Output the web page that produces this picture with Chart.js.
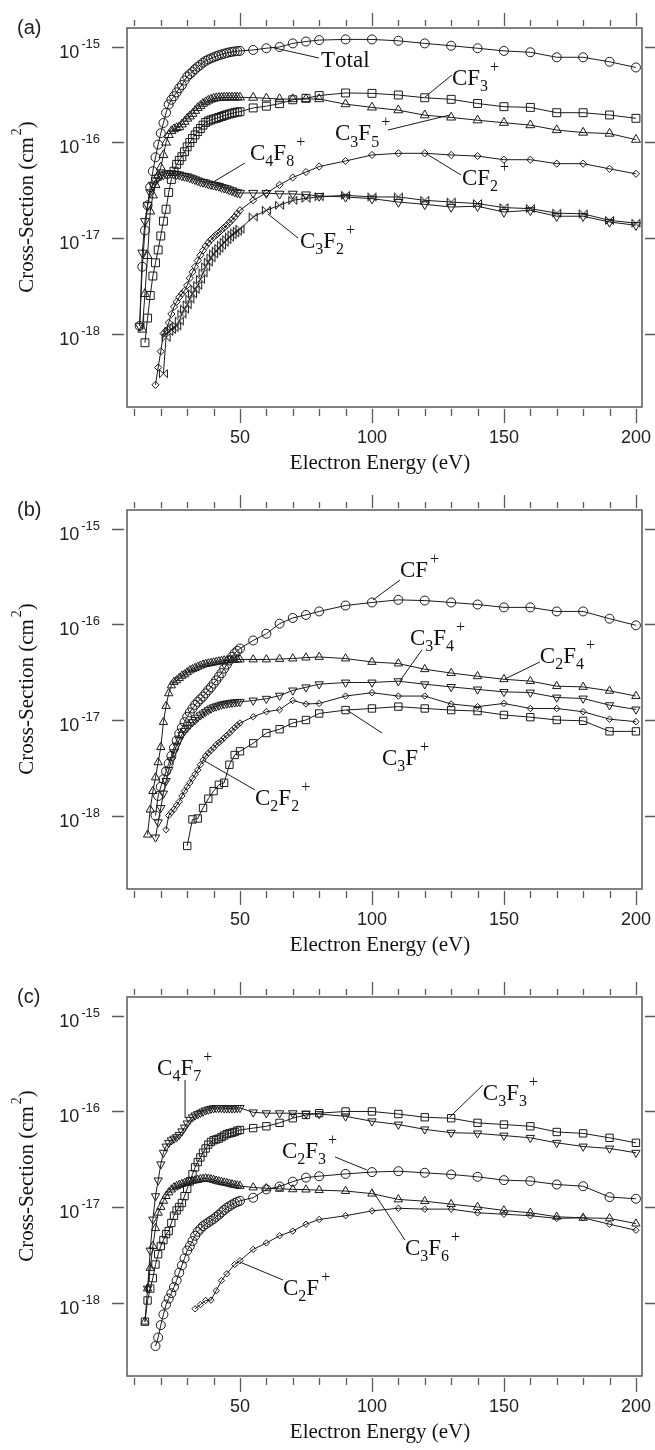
<!DOCTYPE html>
<html lang="en">
<head>
<meta charset="UTF-8">
<title>Partial ionization cross-sections</title>
<script src="https://cdn.jsdelivr.net/npm/chart.js"></script>
<style>
  body { margin: 0; background: #fff; width: 655px; height: 1450px; overflow: hidden; position: relative; }
  canvas { position: absolute; left: 0; }
  #chartA { top: 0; }
  #chartB { top: 482px; }
  #chartC { top: 969px; }
</style>
</head>
<body>
<canvas id="chartA" width="655" height="483"></canvas>
<canvas id="chartB" width="655" height="483"></canvas>
<canvas id="chartC" width="655" height="483"></canvas>
<script>
// axes
const xTicks = [10, 20, 30, 40, 50, 60, 70, 80, 90, 100, 110, 120, 130, 140, 150, 160, 170, 180, 190, 200];
const xTickLabels = [50, 100, 150, 200];
const yTicks = [1e-15, 1e-16, 1e-17, 1e-18];
const yTickExp = ['-15', '-16', '-17', '-18'];

// energies above 50 eV are shared by every series
const tailE = [55, 60, 65, 70, 75, 80, 90, 100, 110, 120, 130, 140, 150, 160, 170, 180, 190, 200];

// ---- panel (a)
const aTotalE = [12, 13, 14, 15, 16, 17, 18, 19, 20, 21, 22, 23, 24, 25, 26, 27, 28, 29, 30, 31, 32, 33, 34, 35, 36, 37, 38, 39, 40, 41, 42, 43, 44, 45, 46, 47, 48, 49, 50];
const aTotal = [1.2e-18, 5.0e-18, 1.2e-17, 2.2e-17, 3.4e-17, 5.0e-17, 7.0e-17, 9.5e-17, 1.25e-16,
  1.6e-16, 2.05e-16, 2.5e-16, 2.8e-16, 3.05e-16, 3.35e-16, 3.7e-16, 4.0e-16, 4.45e-16, 4.9e-16,
  5.2e-16, 5.5e-16, 5.85e-16, 6.2e-16, 6.5e-16, 6.85e-16, 7.15e-16, 7.4e-16, 7.6e-16, 7.8e-16,
  8.0e-16, 8.2e-16, 8.35e-16, 8.5e-16, 8.65e-16, 8.8e-16, 8.9e-16, 9.0e-16, 9.05e-16, 9.1e-16,
  9.3e-16, 9.7e-16, 1.0e-15, 1.09e-15, 1.14e-15, 1.18e-15, 1.2e-15, 1.2e-15, 1.16e-15, 1.09e-15, 1.03e-15, 9.7e-16, 9.1e-16, 8.8e-16, 7.8e-16, 7.8e-16, 7.0e-16, 6.1e-16];

const aCF3E = [14, 15, 16, 17, 18, 19, 20, 21, 22, 23, 24, 25, 26, 27, 28, 29, 30, 31, 32, 33, 34, 35, 36, 37, 38, 39, 40, 41, 42, 43, 44, 45, 46, 47, 48, 49, 50];
const aCF3 = [8e-19, 1.45e-18, 2.5e-18, 4.0e-18, 5.5e-18, 7.5e-18, 1.05e-17,
  1.5e-17, 2.0e-17, 3.0e-17, 4.1e-17, 5.0e-17, 5.9e-17, 6.5e-17, 7.1e-17, 8.0e-17, 9.0e-17,
  1.0e-16, 1.1e-16, 1.2e-16, 1.3e-16, 1.4e-16, 1.52e-16, 1.62e-16, 1.68e-16, 1.72e-16, 1.76e-16,
  1.79e-16, 1.83e-16, 1.87e-16, 1.91e-16, 1.95e-16, 1.99e-16, 2.02e-16, 2.05e-16, 2.08e-16, 2.1e-16,
  2.3e-16, 2.4e-16, 2.55e-16, 2.8e-16, 2.9e-16, 3.1e-16, 3.3e-16, 3.27e-16, 3.14e-16, 2.94e-16, 2.83e-16, 2.56e-16, 2.37e-16, 2.33e-16, 2.05e-16, 2.05e-16, 1.94e-16, 1.79e-16];

const aC3F5E = [13, 14, 15, 16, 17, 18, 19, 20, 21, 22, 23, 24, 25, 26, 27, 28, 29, 30, 31, 32, 33, 34, 35, 36, 37, 38, 39, 40, 41, 42, 43, 44, 45, 46, 47, 48, 49, 50];
const aC3F5 = [1.1e-18, 2.6e-18, 6.5e-18, 1.9e-17, 2.8e-17, 3.6e-17, 4.5e-17, 5.5e-17,
  7.4e-17, 1.0e-16, 1.2e-16, 1.32e-16, 1.38e-16, 1.42e-16, 1.45e-16, 1.55e-16, 1.65e-16, 1.78e-16,
  1.88e-16, 2.0e-16, 2.15e-16, 2.3e-16, 2.42e-16, 2.55e-16, 2.65e-16, 2.75e-16, 2.82e-16, 2.88e-16,
  2.92e-16, 2.94e-16, 2.95e-16, 2.96e-16, 2.96e-16, 2.97e-16, 2.97e-16, 2.97e-16, 2.97e-16, 2.97e-16,
  2.95e-16, 2.9e-16, 2.85e-16, 2.85e-16, 2.85e-16, 2.85e-16, 2.52e-16, 2.33e-16, 2.18e-16, 1.93e-16, 1.83e-16, 1.71e-16, 1.61e-16, 1.52e-16, 1.35e-16, 1.27e-16, 1.24e-16, 1.07e-16];

const aC4F8E = [12, 13, 14, 15, 16, 17, 18, 19, 20, 21, 22, 23, 24, 25, 26, 27, 28, 29, 30, 31, 32, 33, 34, 35, 36, 37, 38, 39, 40, 41, 42, 43, 44, 45, 46, 47, 48, 49, 50];
const aC4F8 = [1.2e-18, 7e-18, 1.5e-17, 2.2e-17, 3.0e-17, 3.6e-17, 4.0e-17, 4.3e-17, 4.5e-17,
  4.6e-17, 4.7e-17, 4.75e-17, 4.75e-17, 4.7e-17, 4.65e-17, 4.6e-17, 4.5e-17, 4.45e-17, 4.4e-17,
  4.3e-17, 4.2e-17, 4.1e-17, 4.0e-17, 3.9e-17, 3.85e-17, 3.8e-17, 3.7e-17, 3.65e-17, 3.6e-17,
  3.55e-17, 3.5e-17, 3.4e-17, 3.35e-17, 3.3e-17, 3.2e-17, 3.15e-17, 3.05e-17, 3.0e-17, 2.96e-17,
  2.96e-17, 2.95e-17, 2.9e-17, 2.9e-17, 2.85e-17, 2.75e-17, 2.69e-17, 2.58e-17, 2.38e-17, 2.25e-17, 2.11e-17, 2.15e-17, 1.87e-17, 1.95e-17, 1.69e-17, 1.69e-17, 1.47e-17, 1.36e-17];

const aCF2E = [18, 19, 20, 21, 22, 23, 24, 25, 26, 27, 28, 29, 30, 31, 32, 33, 34, 35, 36, 37, 38, 39, 40, 41, 42, 43, 44, 45, 46, 47, 48, 49, 50];
const aCF2 = [2.9e-19, 4.4e-19, 6.5e-19,
  1.0e-18, 1.07e-18, 1.3e-18, 1.6e-18, 1.9e-18, 2.15e-18, 2.4e-18, 2.6e-18, 2.8e-18, 3.2e-18,
  3.8e-18, 4.4e-18, 5.0e-18, 5.8e-18, 6.6e-18, 7.4e-18, 8.2e-18, 8.9e-18, 9.6e-18, 1.02e-17,
  1.08e-17, 1.14e-17, 1.21e-17, 1.28e-17, 1.36e-17, 1.45e-17, 1.55e-17, 1.66e-17, 1.8e-17, 1.95e-17,
  2.48e-17, 2.96e-17, 3.6e-17, 4.3e-17, 4.9e-17, 5.6e-17, 6.4e-17, 7.4e-17, 7.7e-17, 7.7e-17, 7.4e-17, 7.2e-17, 6.6e-17, 6.6e-17, 6.0e-17, 6.0e-17, 5.3e-17, 4.7e-17];

const aC3F2E = [21, 22, 23, 24, 25, 26, 27, 28, 29, 30, 31, 32, 33, 34, 35, 36, 37, 38, 39, 40, 41, 42, 43, 44, 45, 46, 47, 48, 49, 50];
const aC3F2 = [3.8e-19, 9.1e-19, 1.05e-18, 1.1e-18, 1.15e-18, 1.2e-18, 1.35e-18, 1.6e-18, 1.8e-18, 2.0e-18,
  2.3e-18, 2.6e-18, 2.9e-18, 3.2e-18, 3.7e-18, 4.3e-18, 5.0e-18, 5.6e-18, 6.2e-18, 6.8e-18,
  7.3e-18, 7.8e-18, 8.4e-18, 9.0e-18, 9.6e-18, 1.02e-17, 1.08e-17, 1.13e-17, 1.18e-17, 1.24e-17,
  1.66e-17, 1.95e-17, 2.2e-17, 2.48e-17, 2.6e-17, 2.7e-17, 2.8e-17, 2.69e-17, 2.69e-17, 2.48e-17, 2.38e-17, 2.29e-17, 2.08e-17, 2.03e-17, 1.82e-17, 1.79e-17, 1.53e-17, 1.43e-17];

// ---- panel (b)
const bCFE = [18, 19, 20, 21, 22, 23, 24, 25, 26, 27, 28, 29, 30, 31, 32, 33, 34, 35, 36, 37, 38, 39, 40, 41, 42, 43, 44, 45, 46, 47, 48, 49, 50];
const bCF = [1.0e-18, 1.6e-18, 2.0e-18,
  2.4e-18, 2.9e-18, 3.5e-18, 4.2e-18, 5.1e-18, 6.1e-18, 7.2e-18, 8.3e-18, 9.5e-18, 1.08e-17,
  1.2e-17, 1.32e-17, 1.44e-17, 1.55e-17, 1.65e-17, 1.76e-17, 1.9e-17, 2.05e-17, 2.2e-17, 2.4e-17,
  2.6e-17, 2.85e-17, 3.1e-17, 3.45e-17, 3.8e-17, 4.2e-17, 4.6e-17, 5.0e-17, 5.3e-17, 5.6e-17,
  6.8e-17, 8.0e-17, 1.02e-16, 1.17e-16, 1.26e-16, 1.37e-16, 1.58e-16, 1.7e-16, 1.81e-16, 1.78e-16, 1.7e-16, 1.62e-16, 1.51e-16, 1.51e-16, 1.37e-16, 1.37e-16, 1.15e-16, 9.8e-17];

const bC2F4E = [15, 16, 17, 18, 19, 20, 21, 22, 23, 24, 25, 26, 27, 28, 29, 30, 31, 32, 33, 34, 35, 36, 37, 38, 39, 40, 41, 42, 43, 44, 45, 46, 47, 48, 49, 50];
const bC2F4 = [6.3e-19, 1.15e-18, 1.8e-18, 2.5e-18, 3.6e-18, 5.2e-18,
  9.5e-18, 1.4e-17, 1.9e-17, 2.3e-17, 2.5e-17, 2.6e-17, 2.75e-17, 2.9e-17, 3.0e-17, 3.15e-17,
  3.3e-17, 3.4e-17, 3.5e-17, 3.6e-17, 3.7e-17, 3.8e-17, 3.85e-17, 3.9e-17, 3.95e-17, 4.0e-17,
  4.05e-17, 4.1e-17, 4.15e-17, 4.2e-17, 4.2e-17, 4.25e-17, 4.25e-17, 4.25e-17, 4.3e-17, 4.3e-17,
  4.3e-17, 4.3e-17, 4.35e-17, 4.4e-17, 4.5e-17, 4.57e-17, 4.4e-17, 4.05e-17, 3.9e-17, 3.4e-17, 3.1e-17, 2.87e-17, 2.67e-17, 2.55e-17, 2.26e-17, 2.22e-17, 2.02e-17, 1.78e-17];

const bC3F4E = [18, 19, 20, 21, 22, 23, 24, 25, 26, 27, 28, 29, 30, 31, 32, 33, 34, 35, 36, 37, 38, 39, 40, 41, 42, 43, 44, 45, 46, 47, 48, 49, 50];
const bC3F4 = [5.9e-19, 8.5e-19, 1.2e-18,
  1.7e-18, 2.3e-18, 3.0e-18, 3.8e-18, 4.6e-18, 5.4e-18, 6.2e-18, 7.0e-18, 7.7e-18, 8.3e-18,
  8.9e-18, 9.5e-18, 1.0e-17, 1.06e-17, 1.12e-17, 1.17e-17, 1.22e-17, 1.27e-17, 1.32e-17, 1.36e-17,
  1.39e-17, 1.42e-17, 1.45e-17, 1.47e-17, 1.49e-17, 1.5e-17, 1.52e-17, 1.53e-17, 1.54e-17, 1.55e-17,
  1.6e-17, 1.67e-17, 1.8e-17, 2.04e-17, 2.2e-17, 2.37e-17, 2.47e-17, 2.47e-17, 2.55e-17, 2.37e-17, 2.22e-17, 2.09e-17, 1.97e-17, 1.94e-17, 1.72e-17, 1.68e-17, 1.43e-17, 1.29e-17];

const bC2F2E = [22, 23, 24, 25, 26, 27, 28, 29, 30, 31, 32, 33, 34, 35, 36, 37, 38, 39, 40, 41, 42, 43, 44, 45, 46, 47, 48, 49, 50];
const bC2F2 = [7.1e-19, 1.0e-18, 1.08e-18, 1.16e-18, 1.28e-18, 1.4e-18, 1.6e-18, 1.8e-18, 2.0e-18,
  2.2e-18, 2.45e-18, 2.7e-18, 3.0e-18, 3.4e-18, 3.8e-18, 4.2e-18, 4.5e-18, 4.8e-18, 5.1e-18,
  5.5e-18, 5.8e-18, 6.1e-18, 6.5e-18, 6.9e-18, 7.3e-18, 7.8e-18, 8.3e-18, 8.8e-18, 9.3e-18,
  1.08e-17, 1.22e-17, 1.28e-17, 1.6e-17, 1.47e-17, 1.49e-17, 1.78e-17, 1.93e-17, 1.78e-17, 1.78e-17, 1.47e-17, 1.38e-17, 1.49e-17, 1.32e-17, 1.32e-17, 1.22e-17, 1.02e-17, 9.6e-18];

const bC3FE = [30, 32, 34, 36, 38, 40, 42, 44, 46, 48, 50];
const bC3F = [4.8e-19, 9.1e-19, 9.3e-19, 1.2e-18, 1.5e-18, 1.8e-18, 2.1e-18, 2.2e-18, 3.4e-18, 4.3e-18, 4.7e-18,
  5.7e-18, 7.3e-18, 8.0e-18, 9.3e-18, 1.0e-17, 1.17e-17, 1.27e-17, 1.32e-17, 1.38e-17, 1.32e-17, 1.27e-17, 1.24e-17, 1.13e-17, 1.07e-17, 1.0e-17, 9.8e-18, 7.6e-18, 7.6e-18];

// ---- panel (c)
const cC4F7E = [15, 16, 17, 18, 19, 20, 21, 22, 23, 24, 25, 26, 27, 28, 29, 30, 31, 32, 33, 34, 35, 36, 37, 38, 39, 40, 41, 42, 43, 44, 45, 46, 47, 48, 49, 50];
const cC4F7 = [1.4e-18, 3.5e-18, 7.4e-18, 1.3e-17, 1.9e-17, 2.8e-17,
  3.7e-17, 4.3e-17, 4.7e-17, 5.0e-17, 5.2e-17, 5.4e-17, 5.7e-17, 6.2e-17, 6.8e-17, 7.5e-17,
  8.2e-17, 8.7e-17, 9.1e-17, 9.4e-17, 9.7e-17, 1.0e-16, 1.03e-16, 1.05e-16, 1.07e-16, 1.08e-16,
  1.09e-16, 1.09e-16, 1.09e-16, 1.08e-16, 1.08e-16, 1.08e-16, 1.08e-16, 1.08e-16, 1.09e-16, 1.09e-16,
  9.8e-17, 9.6e-17, 9.6e-17, 9.6e-17, 9.5e-17, 9.4e-17, 8.9e-17, 7.9e-17, 7.3e-17, 6.5e-17, 6.0e-17, 5.9e-17, 5.6e-17, 5.3e-17, 4.7e-17, 4.3e-17, 4.1e-17, 3.7e-17];

const cC3F3E = [14, 15, 16, 17, 18, 19, 20, 21, 22, 23, 24, 25, 26, 27, 28, 29, 30, 31, 32, 33, 34, 35, 36, 37, 38, 39, 40, 41, 42, 43, 44, 45, 46, 47, 48, 49, 50];
const cC3F3 = [6.3e-19, 1.05e-18, 1.4e-18, 1.8e-18, 2.5e-18, 3.2e-18, 3.9e-18,
  4.5e-18, 5.2e-18, 5.6e-18, 6.8e-18, 8.1e-18, 9.2e-18, 1.0e-17, 1.1e-17, 1.3e-17, 1.55e-17,
  1.85e-17, 2.2e-17, 2.6e-17, 2.95e-17, 3.3e-17, 3.7e-17, 4.1e-17, 4.5e-17, 4.8e-17, 5.0e-17,
  5.1e-17, 5.2e-17, 5.4e-17, 5.6e-17, 5.8e-17, 5.9e-17, 6.0e-17, 6.1e-17, 6.3e-17, 6.4e-17,
  6.7e-17, 7.0e-17, 7.6e-17, 8.5e-17, 9.2e-17, 9.6e-17, 1.0e-16, 1.0e-16, 9.4e-17, 8.7e-17, 8.5e-17, 7.6e-17, 7.3e-17, 7.0e-17, 6.1e-17, 5.9e-17, 5.3e-17, 4.7e-17];

const cC2F3E = [18, 19, 20, 21, 22, 23, 24, 25, 26, 27, 28, 29, 30, 31, 32, 33, 34, 35, 36, 37, 38, 39, 40, 41, 42, 43, 44, 45, 46, 47, 48, 49, 50];
const cC2F3 = [3.5e-19, 4.3e-19, 5.8e-19,
  7.5e-19, 9.5e-19, 1.1e-18, 1.25e-18, 1.45e-18, 1.7e-18, 2.05e-18, 2.45e-18, 2.9e-18, 3.5e-18,
  3.9e-18, 4.4e-18, 5.0e-18, 5.5e-18, 5.9e-18, 6.3e-18, 6.6e-18, 6.9e-18, 7.2e-18, 7.5e-18,
  7.9e-18, 8.3e-18, 8.8e-18, 9.3e-18, 9.8e-18, 1.02e-17, 1.06e-17, 1.1e-17, 1.13e-17, 1.16e-17,
  1.25e-17, 1.53e-17, 1.64e-17, 1.84e-17, 2.03e-17, 2.1e-17, 2.22e-17, 2.32e-17, 2.37e-17, 2.28e-17, 2.19e-17, 2.07e-17, 1.91e-17, 1.87e-17, 1.72e-17, 1.65e-17, 1.27e-17, 1.22e-17];

const cC3F6E = [14, 15, 16, 17, 18, 19, 20, 21, 22, 23, 24, 25, 26, 27, 28, 29, 30, 31, 32, 33, 34, 35, 36, 37, 38, 39, 40, 41, 42, 43, 44, 45, 46, 47, 48, 49, 50];
const cC3F6 = [6.3e-19, 1.4e-18, 2.3e-18, 3.9e-18, 6.0e-18, 8.7e-18, 1.0e-17,
  1.16e-17, 1.3e-17, 1.42e-17, 1.52e-17, 1.6e-17, 1.65e-17, 1.7e-17, 1.74e-17, 1.78e-17, 1.82e-17,
  1.85e-17, 1.88e-17, 1.9e-17, 1.92e-17, 1.95e-17, 1.97e-17, 1.99e-17, 1.97e-17, 1.95e-17, 1.92e-17,
  1.88e-17, 1.85e-17, 1.82e-17, 1.8e-17, 1.78e-17, 1.75e-17, 1.72e-17, 1.7e-17, 1.68e-17, 1.66e-17,
  1.6e-17, 1.57e-17, 1.55e-17, 1.53e-17, 1.52e-17, 1.5e-17, 1.47e-17, 1.38e-17, 1.2e-17, 1.15e-17, 1.07e-17, 1.0e-17, 9.2e-18, 8.7e-18, 7.9e-18, 7.7e-18, 7.6e-18, 6.7e-18];

const cC2FE = [33, 35, 37, 39, 41, 43, 45, 48, 50];
const cC2F = [8.6e-19, 9.5e-19, 1.05e-18, 1.06e-18, 1.33e-18, 1.7e-18, 2.0e-18, 2.5e-18, 2.74e-18,
  3.6e-18, 4.2e-18, 5.0e-18, 5.6e-18, 6.6e-18, 7.4e-18, 8.1e-18, 9.1e-18, 9.7e-18, 9.5e-18, 9.5e-18, 8.7e-18, 8.4e-18, 8.1e-18, 7.6e-18, 7.7e-18, 6.6e-18, 5.7e-18];

// ---- labels: text, anchor (E, sigma) and leader line
const notesA = [
  {text: 'Total', at: [80.7, 6.18e-16], from: [61.4, 1.0e-15], to: [79.9, 7.67e-16]},
  {text: 'CF_3^+', at: [130.3, 4.0e-16], from: [120.1, 2.99e-16], to: [130.3, 5.09e-16]},
  {text: 'C_3F_5^+', at: [86, 1.06e-16], from: [106.1, 1.35e-16], to: [129.5, 1.94e-16]},
  {text: 'CF_2^+', at: [134.1, 3.59e-17], from: [120.1, 7.76e-17], to: [133.7, 4.57e-17]},
  {text: 'C_4F_8^+', at: [53.8, 6.56e-17], from: [51.9, 6.1e-17], to: [40.5, 3.95e-17]},
  {text: 'C_3F_2^+', at: [72.7, 7.85e-18], from: [60.6, 1.78e-17], to: [72, 1.0e-17]}
];
const notesB = [
  {text: 'CF^+', at: [110.6, 3.14e-16], from: [100.4, 1.81e-16], to: [110.6, 2.92e-16]},
  {text: 'C_3F_4^+', at: [114.4, 6.1e-17], from: [110.6, 2.57e-17], to: [118.9, 5.41e-17]},
  {text: 'C_2F_4^+', at: [163.6, 3.95e-17], from: [150.4, 2.69e-17], to: [163.6, 4.05e-17]},
  {text: 'C_3F^+', at: [103.8, 3.38e-18], from: [90.5, 1.27e-17], to: [103.8, 7.31e-18]},
  {text: 'C_2F_2^+', at: [55.7, 1.29e-18], from: [36, 3.81e-18], to: [55.7, 1.85e-18]}
];
const notesC = [
  {text: 'C_4F_7^+', at: [18.6, 2.41e-16], from: [29.2, 2.14e-16], to: [29.2, 8.55e-17]},
  {text: 'C_3F_3^+', at: [142, 1.32e-16], from: [129.5, 8.75e-17], to: [142, 1.89e-16]},
  {text: 'C_2F_3^+', at: [65.9, 3.26e-17], from: [86, 3.34e-17], to: [98.1, 2.44e-17]},
  {text: 'C_3F_6^+', at: [112.5, 3.14e-18], from: [100, 1.51e-17], to: [112.5, 4.51e-18]},
  {text: 'C_2F^+', at: [66.3, 1.2e-18], from: [50, 2.65e-18], to: [66.3, 1.72e-18]}
];

const ink = '#1a1a1a';
const frameGray = '#5a5a5a';
const sansFont = 'Arial, "Liberation Sans", sans-serif';
const serifFont = '"Liberation Serif", "Times New Roman", serif';

// hollow bowtie marker
const bowtie = document.createElement('canvas');
bowtie.width = 11; bowtie.height = 11;
(function () {
  const b = bowtie.getContext('2d');
  b.strokeStyle = ink; b.lineWidth = 1;
  b.beginPath();
  b.moveTo(1.5, 1.5); b.lineTo(9.5, 9.5); b.lineTo(9.5, 1.5); b.lineTo(1.5, 9.5);
  b.closePath(); b.stroke();
})();

// text with _x subscripts and ^x superscripts
function richText(ctx, text, x, y, size, draw) {
  let cx = x;
  for (let i = 0; i < text.length; i++) {
    let ch = text[i], dy = 0, fs = size;
    if (ch === '_' || ch === '^') {
      const sub = ch === '_';
      ch = text[++i];
      fs = Math.round(size * 0.68);
      dy = sub ? size * 0.28 : -size * 0.58;
      cx += sub ? 0 : 2;
    }
    ctx.font = fs + 'px ' + serifFont;
    if (draw) ctx.fillText(ch, cx, y + dy);
    cx += ctx.measureText(ch).width;
  }
  return cx - x;
}

const framePlugin = {
  id: 'frame',
  afterDatasetsDraw(chart, args, opts) {
    const {ctx, chartArea: a, scales: {x, y}} = chart;
    ctx.save();
    ctx.strokeStyle = frameGray;
    ctx.lineWidth = 1.5;
    ctx.strokeRect(a.left, a.top, a.right - a.left, a.bottom - a.top);

    ctx.lineWidth = 1.3;
    ctx.beginPath();
    xTicks.forEach(v => {
      const px = Math.round(x.getPixelForValue(v)) + 0.5;
      const major = xTickLabels.includes(v);
      ctx.moveTo(px, a.bottom + 2); ctx.lineTo(px, a.bottom + (major ? 16 : 9));
      ctx.moveTo(px, a.top - 2); ctx.lineTo(px, a.top - (major ? 15 : 8));
    });
    yTicks.forEach(v => {
      const py = Math.round(y.getPixelForValue(v)) + 0.5;
      ctx.moveTo(a.left - 3, py); ctx.lineTo(a.left - 15, py);
      ctx.moveTo(a.right + 3, py); ctx.lineTo(a.right + 14, py);
    });
    ctx.stroke();

    // tick labels
    ctx.fillStyle = '#222';
    ctx.textBaseline = 'alphabetic';
    ctx.font = '18px ' + sansFont;
    ctx.textAlign = 'center';
    xTickLabels.forEach(v => ctx.fillText(String(v), x.getPixelForValue(v), a.bottom + 36));
    ctx.textAlign = 'left';
    yTicks.forEach((v, i) => {
      const py = y.getPixelForValue(v);
      ctx.font = '13px ' + sansFont;
      const ew = ctx.measureText(yTickExp[i]).width;
      const ex = a.left - 27 - ew;
      ctx.fillText(yTickExp[i], ex, py + 1);
      ctx.font = '18px ' + sansFont;
      const bw = ctx.measureText('10').width;
      ctx.fillText('10', ex - 2 - bw, py + 11);
    });

    // panel letter
    ctx.font = '20px ' + sansFont;
    ctx.fillText(opts.letter, 17, 34);

    // axis titles
    ctx.fillStyle = '#111';
    ctx.font = '21px ' + serifFont;
    ctx.textAlign = 'center';
    ctx.fillText('Electron Energy (eV)', 380, a.bottom + 62);
    ctx.textAlign = 'left';
    const yt = 'Cross-Section (cm^2)';
    const w = richText(ctx, yt, 0, 0, 21, false);
    ctx.save();
    ctx.translate(33, 207);
    ctx.rotate(-Math.PI / 2);
    richText(ctx, yt, -w / 2, 0, 21, true);
    ctx.restore();

    // curve labels with leader lines
    ctx.strokeStyle = ink;
    ctx.lineWidth = 1;
    opts.notes.forEach(n => {
      ctx.beginPath();
      ctx.moveTo(x.getPixelForValue(n.from[0]), y.getPixelForValue(n.from[1]));
      ctx.lineTo(x.getPixelForValue(n.to[0]), y.getPixelForValue(n.to[1]));
      ctx.stroke();
      richText(ctx, n.text, x.getPixelForValue(n.at[0]), y.getPixelForValue(n.at[1]), 23, true);
    });
    ctx.restore();
  }
};

function series(label, lowE, values, style, r, rot) {
  const energies = lowE.concat(tailE);
  return {
    label,
    data: energies.map((e, i) => ({x: e, y: values[i]})),
    borderColor: ink,
    borderWidth: 1,
    pointStyle: style,
    pointRadius: r,
    pointHoverRadius: r,
    pointRotation: rot || 0,
    pointBorderColor: ink,
    pointBorderWidth: 1,
    pointBackgroundColor: 'rgba(0,0,0,0)',
    tension: 0,
    fill: false
  };
}

function makeChart(id, datasets, notes, letter) {
  return new Chart(document.getElementById(id), {
    type: 'line',
    data: {datasets},
    options: {
      responsive: false,
      animation: false,
      devicePixelRatio: 1,
      events: [],
      layout: {padding: {left: 127, right: 13, top: 28, bottom: 76}},
      plugins: {
        legend: {display: false},
        tooltip: {enabled: false},
        frame: {notes, letter}
      },
      scales: {
        x: {type: 'linear', min: 7.2, max: 202.3, display: false},
        y: {type: 'logarithmic', min: 1.7e-19, max: 1.58e-15, display: false}
      }
    },
    plugins: [framePlugin]
  });
}

makeChart('chartA', [
  series('Total', aTotalE, aTotal, 'circle', 4.5),
  series('CF3+', aCF3E, aCF3, 'rect', 5.6),
  series('C3F5+', aC3F5E, aC3F5, 'triangle', 5.2),
  series('C4F8+', aC4F8E, aC4F8, 'triangle', 5.2, 180),
  series('CF2+', aCF2E, aCF2, 'rectRot', 3.6),
  series('C3F2+', aC3F2E, aC3F2, bowtie, 4.5)
], notesA, '(a)');

makeChart('chartB', [
  series('CF+', bCFE, bCF, 'circle', 4.5),
  series('C2F4+', bC2F4E, bC2F4, 'triangle', 4.8),
  series('C3F4+', bC3F4E, bC3F4, 'triangle', 4.8, 180),
  series('C2F2+', bC2F2E, bC2F2, 'rectRot', 3.2),
  series('C3F+', bC3FE, bC3F, 'rect', 5.2)
], notesB, '(b)');

makeChart('chartC', [
  series('C4F7+', cC4F7E, cC4F7, 'triangle', 4.8, 180),
  series('C3F3+', cC3F3E, cC3F3, 'rect', 5.2),
  series('C2F3+', cC2F3E, cC2F3, 'circle', 4.5),
  series('C3F6+', cC3F6E, cC3F6, 'triangle', 4.8),
  series('C2F+', cC2FE, cC2F, 'rectRot', 3.2)
], notesC, '(c)');
</script>
</body>
</html>
